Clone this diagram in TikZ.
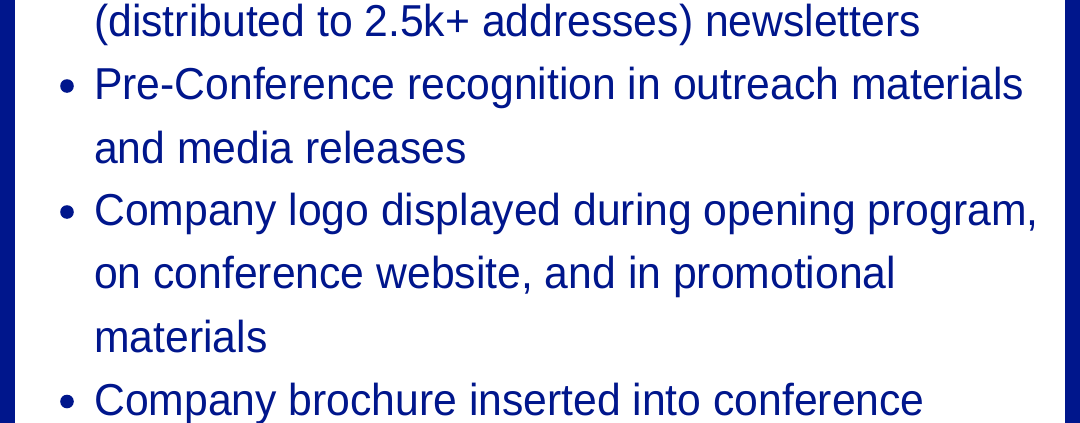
\documentclass[tikz,border=0pt]{standalone}
\usepackage{fontspec}
\setmainfont[FakeStretch=0.955]{Liberation Sans}
\usepackage[usenames]{xcolor}
\usepackage{tikz}
\definecolor{navy}{RGB}{0,22,140}

\begin{document}
\begin{tikzpicture}[x=1pt,y=-1pt,
  item/.style={anchor=base west,inner sep=0pt,text=navy,font=\fontsize{44.7}{50}\selectfont}]
\useasboundingbox (0,0) rectangle (1080,423);
\fill[white] (0,0) rectangle (1080,423);
\fill[navy] (0,0) rectangle (15,423);
\fill[navy] (1065,0) rectangle (1080,423);
\node[item] (news) at (94,36) {(distributed to 2.5k+ addresses) newsletters};
\fill[navy] (67,86) circle(6.8);
\node[item] (pre) at (94,99.5) {Pre-Conference recognition in outreach materials};
\node[item] (media) at (94,163) {and media releases};
\fill[navy] (67,212) circle(6.8);
\node[item] (logo) at (94,225.5) {Company logo displayed during opening program,};
\node[item] (site) at (94,288.5) {on conference website, and in promotional};
\node[item] (mat) at (94,352) {materials};
\fill[navy] (67,401.5) circle(6.8);
\node[item] (broch) at (94,415) {Company brochure inserted into conference};
\end{tikzpicture}
\end{document}
